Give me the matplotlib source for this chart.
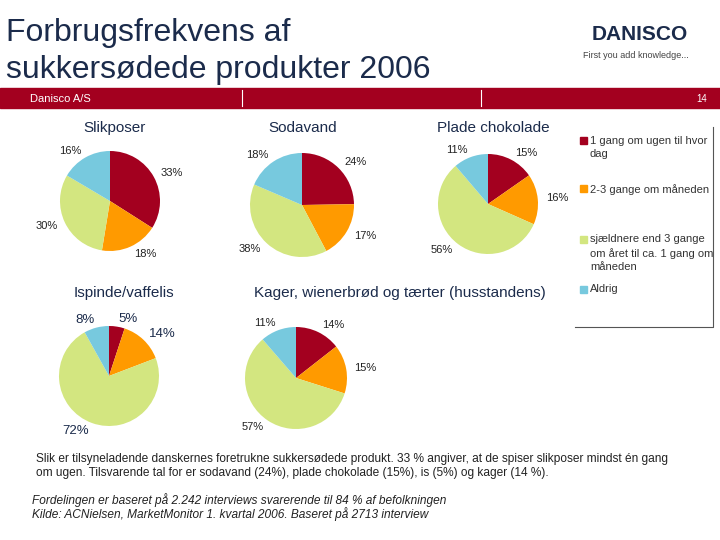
import matplotlib
matplotlib.use("Agg")
import matplotlib.pyplot as plt
from matplotlib.patches import Rectangle

plt.rcParams['font.family'] = ['Liberation Sans', 'DejaVu Sans']

# shares per product: 1/week+, 2-3/month, rarer, never
products = ["Slikposer", "Sodavand", "Plade chokolade", "Ispinde/vaffelis",
            "Kager, wienerbrød og tærter (husstandens)"]
weekly = [33, 24, 15, 5, 14]
monthly = [18, 17, 16, 14, 15]
rarely = [30, 38, 56, 72, 57]
never = [16, 18, 11, 8, 11]

categories = ["1 gang om ugen til hvor\ndag", "2-3 gange om måneden",
              "sjældnere end 3 gange\nom året til ca. 1 gang om\nmåneden", "Aldrig"]
colors = ["#a3001f", "#ff9a00", "#d3e680", "#77c9de"]

navy = "#1b2b4b"
W, H = 720, 540

# pixel layout: centre x, centre y, radius, title x, title y
layout = [(110, 201, 50, 115, 128),
          (302, 205, 52, 303, 128),
          (488, 204, 50, 493, 128),
          (109, 376, 50, 124, 293),
          (296, 378, 51, 400, 293)]


def fx(x):
    return x / W


def fy(y):
    return 1 - y / H


fig = plt.figure(figsize=(7.2, 5.4), dpi=100)

# header
fig.text(fx(6), fy(33), "Forbrugsfrekvens af", fontsize=23, color=navy, va="center")
fig.text(fx(6), fy(70), "sukkersødede produkter 2006", fontsize=23, color=navy, va="center")
fig.text(fx(592), fy(35), "DANISCO", fontsize=15, fontweight="bold", color=navy, va="center")
fig.text(fx(583), fy(55), "First you add knowledge...", fontsize=6.5, color="#444444",
         va="center")
fig.patches.append(Rectangle((0, fy(108)), 1, 20 / H, transform=fig.transFigure,
                             color="#a3001f", zorder=0))
for xl in (242, 481):
    fig.lines.append(plt.Line2D([fx(xl), fx(xl)], [fy(106), fy(90)],
                                transform=fig.transFigure, color="white", lw=0.8))
fig.text(fx(30), fy(99), "Danisco A/S", fontsize=8, color="white", va="center")
fig.text(fx(707), fy(99), "14", fontsize=7, color="white", va="center", ha="right")

# pies
for i, (cx, cy, r, tx, ty) in enumerate(layout):
    ax = fig.add_axes([fx(cx - r), fy(cy + r), 2 * r / W, 2 * r / H])
    vals = [weekly[i], monthly[i], rarely[i], never[i]]
    if i == 3:
        tp = dict(fontsize=9.5, color=navy)
    else:
        tp = dict(fontsize=8, color="#222222")
    ax.pie(vals, colors=colors, startangle=90, counterclock=False,
           labels=[f"{v}%" for v in vals], labeldistance=1.16, textprops=tp)
    ax.set_xlim(-1, 1)
    ax.set_ylim(-1, 1)
    ax.axis("off")
    fig.text(fx(tx), fy(ty), products[i], fontsize=11, color=navy,
             ha="center", va="center")

# legend box
fig.lines.append(plt.Line2D([fx(575), fx(713), fx(713)], [fy(327), fy(327), fy(127)],
                            transform=fig.transFigure, color="#555555", lw=0.8))
leg_y = [140, 189, 239, 289]
for cat, col, ly in zip(categories, colors, leg_y):
    fig.patches.append(Rectangle((fx(580), fy(ly + 3.5)), 7 / W, 7 / H,
                                 transform=fig.transFigure, color=col))
    fig.text(fx(590), fy(ly - 4.5), cat, fontsize=8, color="#333333", va="top",
             linespacing=1.4)

# notes
fig.text(fx(36), fy(459), "Slik er tilsyneladende danskernes foretrukne sukkersødede produkt. "
         "33 % angiver, at de spiser slikposer mindst én gang", fontsize=8.6,
         color="#222222", va="center")
fig.text(fx(36), fy(473), "om ugen. Tilsvarende tal for er sodavand (24%), plade chokolade (15%), "
         "is (5%) og kager (14 %).", fontsize=8.6, color="#222222", va="center")
fig.text(fx(32), fy(500), "Fordelingen er baseret på 2.242 interviews svarerende til 84 % "
         "af befolkningen", fontsize=8.6, style="italic", color="#222222", va="center")
fig.text(fx(32), fy(514), "Kilde: ACNielsen, MarketMonitor 1. kvartal 2006. Baseret på "
         "2713 interview", fontsize=8.6, style="italic", color="#222222", va="center")

fig.savefig("out.png", dpi=100)
